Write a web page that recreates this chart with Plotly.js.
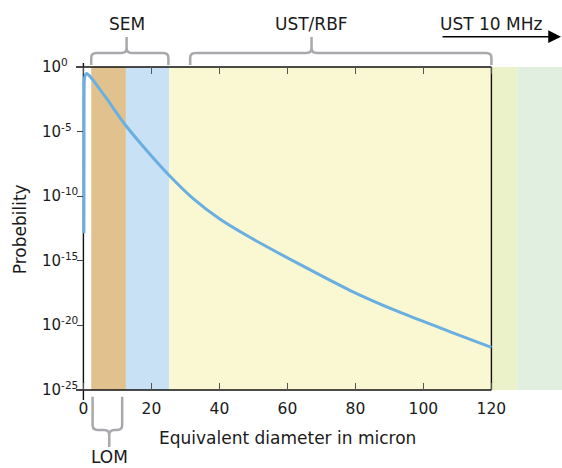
<!DOCTYPE html>
<html>
<head>
<meta charset="utf-8">
<script src="https://cdn.plot.ly/plotly-3.0.1.min.js"></script>
<style>html,body{margin:0;padding:0;background:#fff;}#chart{width:562px;height:468px;}</style>
</head>
<body>
<div id="chart"></div>
<script>
// ---- data ----
var diameter = [0.15, 0.18, 0.2, 0.3, 0.55, 0.97, 1.5, 2.9, 6.85, 12.4, 18.6, 25.2, 32.3, 40, 49.1, 63.8, 78.5, 93.2, 107.9, 120];
var probability = [1.35e-13, 1e-6, 2.5e-2, 0.126, 0.24, 0.31, 0.25, 0.093, 3.5e-3, 3.1e-5, 3.5e-7, 4.2e-9, 6.5e-11, 1.8e-12, 6.3e-14, 5.0e-16, 5.0e-18, 1.0e-19, 3.2e-21, 2.0e-22];

var xTickVals = [0, 20, 40, 60, 80, 100, 120];
var xTickLabels = ['0', '20', '40', '60', '80', '100', '120'];
var yTickVals = [1, 1e-5, 1e-10, 1e-15, 1e-20, 1e-25];
var yTickExp = [0, -5, -10, -15, -20, -25];
var yTickLabels = ['10<sup>0</sup>', '10<sup>-5</sup>', '10<sup>-10</sup>', '10<sup>-15</sup>', '10<sup>-20</sup>', '10<sup>-25</sup>'];

var bandStart = [2.3, 12.5, 25.2, 120, 127.6];
var bandEnd = [12.5, 25.2, 120, 127.6, 145];
var bandColor = ['#e1c28f', '#c9e1f5', '#faf8d2', '#ebf2c9', '#e1efe0'];

var braceNames = ['SEM', 'UST/RBF', 'LOM'];
var braceLeft = [2.3, 31.4, 2.7];
var braceCenter = [12.7, 67.1, 7.6];
var braceRight = [25.0, 120, 11.4];
var braceSide = ['top', 'top', 'bottom'];
var arrowLabel = 'UST 10 MHz';
var xTitle = 'Equivalent diameter in micron';
var yTitle = 'Probebility';

// ---- layout helpers ----
var XMIN = -2.18, XMAX = 140.76, XEND = 120;
var FONT = 'DejaVu Sans, sans-serif';
var TXT = '#1a1a1a';

function bracePath(xL, xC, xR, yEnd, yBar, yTip, rx, ry) {
  var s = yBar > yEnd ? 1 : -1;
  return 'M' + xL + ',' + yEnd + ' L' + xL + ',' + (yBar - s * ry) +
    ' Q' + xL + ',' + yBar + ' ' + (xL + rx) + ',' + yBar +
    ' L' + (xC - rx) + ',' + yBar +
    ' Q' + xC + ',' + yBar + ' ' + xC + ',' + (yBar + s * ry) +
    ' L' + xC + ',' + yTip +
    ' M' + xC + ',' + (yBar + s * ry) +
    ' Q' + xC + ',' + yBar + ' ' + (xC + rx) + ',' + yBar +
    ' L' + (xR - rx) + ',' + yBar +
    ' Q' + xR + ',' + yBar + ' ' + xR + ',' + (yBar - s * ry) +
    ' L' + xR + ',' + yEnd;
}

var shapes = [];
for (var i = 0; i < bandStart.length; i++) {
  shapes.push({type: 'rect', xref: 'x', yref: 'paper', x0: bandStart[i], x1: bandEnd[i], y0: 0, y1: 1,
    fillcolor: bandColor[i], line: {width: 0}, layer: 'below'});
}
var axisLine = {color: '#111', width: 1.4};
shapes.push({type: 'line', xref: 'x', yref: 'paper', x0: XMIN, x1: XEND, y0: 1, y1: 1, line: axisLine, layer: 'below'});
shapes.push({type: 'line', xref: 'x', yref: 'paper', x0: XMIN, x1: XEND, y0: 0, y1: 0, line: axisLine, layer: 'below'});
shapes.push({type: 'line', xref: 'x', yref: 'paper', x0: 0, x1: 0, y0: -0.031, y1: 1.012, line: axisLine, layer: 'below'});
shapes.push({type: 'line', xref: 'x', yref: 'paper', x0: XEND, x1: XEND, y0: 0, y1: 1, line: axisLine, layer: 'below'});

var braceGeom = {
  top: {yEnd: 1.0062, yBar: 1.0433, yTip: 1.0929},
  bottom: {yEnd: -0.0207, yBar: -0.1238, yTip: -0.1765}
};
for (var j = 0; j < braceNames.length; j++) {
  var g = braceGeom[braceSide[j]];
  shapes.push({type: 'path', xref: 'x', yref: 'paper',
    path: bracePath(braceLeft[j], braceCenter[j], braceRight[j], g.yEnd, g.yBar, g.yTip, 1.5, 0.0155),
    line: {color: '#a7a9ac', width: 2.5}, layer: 'above'});
}

var annotations = [];
for (var k = 0; k < yTickVals.length; k++) {
  annotations.push({xref: 'paper', yref: 'y', x: -0.0741, y: yTickExp[k], text: yTickLabels[k],
    xanchor: 'left', yanchor: 'middle', showarrow: false, yshift: 1, font: {size: 15, color: TXT}});
}
annotations.push({xref: 'paper', yref: 'paper', x: -0.115, y: 0.498, text: yTitle, textangle: -90,
  showarrow: false, xanchor: 'center', yanchor: 'middle', font: {size: 17, color: TXT}});
annotations.push({xref: 'x', yref: 'paper', x: 60, y: -0.1486, text: xTitle,
  showarrow: false, xanchor: 'center', yanchor: 'middle', font: {size: 17, color: TXT}});
var labelY = {top: 1.133, bottom: -0.207};
for (var m = 0; m < braceNames.length; m++) {
  annotations.push({xref: 'x', yref: 'paper', x: braceCenter[m], y: labelY[braceSide[m]], text: braceNames[m],
    showarrow: false, xanchor: 'center', yanchor: 'middle', font: {size: 17, color: TXT}});
}
annotations.push({xref: 'x', yref: 'paper', x: XEND, y: 1.133, text: arrowLabel,
  showarrow: false, xanchor: 'center', yanchor: 'middle', font: {size: 17, color: TXT}});
annotations.push({xref: 'paper', yref: 'paper', x: 0.998, y: 1.0938, ax: -120, ay: 0, text: '',
  showarrow: true, arrowhead: 2, arrowsize: 1.7, arrowwidth: 1.5, arrowcolor: '#000'});

var trace = {
  x: diameter, y: probability, type: 'scatter', mode: 'lines',
  line: {color: '#6aafe2', width: 3, shape: 'spline', smoothing: 0.6},
  cliponaxis: false, hoverinfo: 'skip'
};

var yCommon = {
  type: 'log', range: [-25, 0], tickvals: yTickVals, showticklabels: false,
  ticklen: 6, tickwidth: 1.4, tickcolor: '#444', showgrid: false, zeroline: false, showline: false,
  anchor: 'free', position: (83.4 - 76) / 486
};
var layout = {
  width: 562, height: 468,
  margin: {l: 76, r: 0, t: 67, b: 78, pad: 0},
  paper_bgcolor: '#fff', plot_bgcolor: 'rgba(0,0,0,0)',
  font: {family: FONT, size: 15, color: TXT},
  showlegend: false,
  xaxis: {range: [XMIN, XMAX], tickvals: xTickVals, ticktext: xTickLabels, ticks: 'inside', ticklen: 7,
    tickwidth: 1.5, tickcolor: '#555', mirror: 'ticks', showline: false, showgrid: false, zeroline: false,
    ticklabelstandoff: 7, tickfont: {size: 15.5, color: TXT}},
  yaxis: Object.assign({}, yCommon, {ticks: 'outside'}),
  yaxis2: Object.assign({}, yCommon, {ticks: 'inside', overlaying: 'y'}),
  shapes: shapes,
  annotations: annotations
};

Plotly.newPlot('chart', [trace], layout, {displayModeBar: false, staticPlot: true});
</script>
</body>
</html>
